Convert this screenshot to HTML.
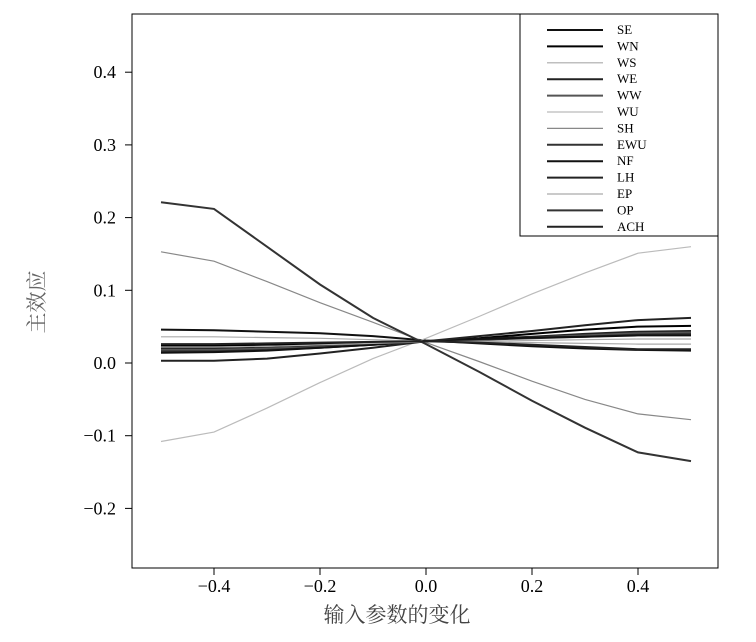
<!DOCTYPE html>
<html><head><meta charset="utf-8"><style>
body{margin:0;background:#fff;width:756px;height:637px;overflow:hidden}
text{font-family:"Liberation Serif","Noto Serif CJK SC",serif}
</style></head><body>
<svg id="c" width="756" height="637"></svg>
<script>
const xs=[-0.5,-0.4,-0.3,-0.2,-0.1,0,0.1,0.2,0.3,0.4,0.5];
const names=["SE","WN","WS","WE","WW","WU","SH","EWU","NF","LH","EP","OP","ACH"];
const colors=["#111","#000","#aaa","#222","#555","#bbb","#888","#333","#111","#222","#aaa","#333","#222"];
const s0=[0.046,0.045,0.043,0.041,0.037,0.031,0.027,0.023,0.020,0.018,0.017];
const s1=[0.024,0.024,0.025,0.026,0.028,0.030,0.034,0.040,0.046,0.050,0.051];
const s2=[0.036,0.036,0.035,0.034,0.032,0.030,0.029,0.028,0.027,0.026,0.026];
const s3=[0.020,0.020,0.021,0.023,0.026,0.030,0.033,0.036,0.040,0.043,0.044];
const s4=[0.018,0.018,0.020,0.022,0.026,0.030,0.032,0.035,0.038,0.041,0.042];
const s5=[-0.108,-0.095,-0.062,-0.027,0.006,0.034,0.064,0.095,0.124,0.151,0.160];
const s6=[0.153,0.140,0.112,0.083,0.056,0.028,0.002,-0.025,-0.050,-0.070,-0.078];
const s7=[0.016,0.016,0.018,0.021,0.025,0.030,0.032,0.034,0.036,0.039,0.040];
const s8=[0.014,0.015,0.017,0.021,0.025,0.030,0.033,0.035,0.036,0.038,0.038];
const s9=[0.003,0.003,0.006,0.013,0.021,0.030,0.037,0.044,0.052,0.059,0.062];
const s10=[0.022,0.022,0.023,0.025,0.027,0.029,0.030,0.031,0.032,0.033,0.033];
const s11=[0.221,0.212,0.160,0.108,0.062,0.026,-0.012,-0.052,-0.089,-0.123,-0.135];
const s12=[0.026,0.026,0.027,0.028,0.029,0.030,0.028,0.025,0.022,0.019,0.019];
const series=[s0,s1,s2,s3,s4,s5,s6,s7,s8,s9,s10,s11,s12];
const xTicks=[-0.4,-0.2,0.0,0.2,0.4];
const yTicks=[0.4,0.3,0.2,0.1,0.0,-0.1,-0.2];
const X=v=>426+v*530, Y=v=>363-v*727;
const svg=document.getElementById('c'),NS="http://www.w3.org/2000/svg";
function mk(t,a,p){const e=document.createElementNS(NS,t);for(const k in a)e.setAttribute(k,a[k]);(p||svg).appendChild(e);return e;}
const frame=mk('rect',{x:132,y:14,width:586,height:554,fill:'none',stroke:'#000','stroke-width':1});


const fmt=v=>(v<0?'\u2212':'')+Math.abs(v).toFixed(1);
xTicks.forEach(v=>{
 const l=mk('line',{x1:X(v),x2:X(v),y1:568,y2:575,stroke:'#000'});
 
 
 const t=mk('text',{x:X(v),y:592,'font-size':18,'text-anchor':'middle'});t.textContent=fmt(v);
 
 
});
yTicks.forEach(v=>{
 const l=mk('line',{x1:125,x2:132,y1:Y(v),y2:Y(v),stroke:'#000'});
 
 
 const t=mk('text',{x:116,y:Y(v)+6,'font-size':18,'text-anchor':'end'});t.textContent=fmt(v);
 
 
});
series.forEach((s,i)=>{
 const d=s.map((v,j)=>(j?'L':'M')+X(xs[j]).toFixed(1)+','+Y(v).toFixed(1)).join('');
 const p=mk('path',{d:d,fill:'none',stroke:colors[i],'stroke-width':(i==5||i==6||i==2||i==10)?1.2:2});
 
 
});
const lg=mk('rect',{x:520,y:14,width:198,height:222,fill:'#fff',stroke:'#000'});


names.forEach((n,i)=>{
 const y=25+i*16.4;
 const l=mk('line',{x1:547,x2:603,y1:y+5,y2:y+5,stroke:colors[i],'stroke-width':(i==5||i==6||i==2||i==10)?1.2:2});
 
 
 const t=mk('text',{x:617,y:y+9,'font-size':13});t.textContent=n;
 
 
});
const xt=mk('text',{x:397,y:622,'font-size':21,'text-anchor':'middle',fill:'#444'});xt.textContent='输入参数的变化';


const yt=mk('text',{x:0,y:0,'font-size':21,'text-anchor':'middle',fill:'#666',transform:'translate(44,302) rotate(-90)'});yt.textContent='主效应';


</script>
</body></html>
